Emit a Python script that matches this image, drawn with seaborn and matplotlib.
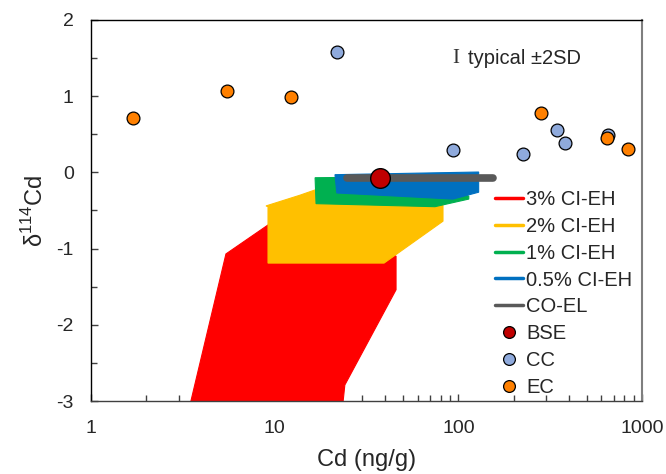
import matplotlib
matplotlib.use("Agg")
import matplotlib.pyplot as plt
import seaborn as sns
import pandas as pd
from matplotlib.lines import Line2D

# ---- data ----
ec_cd = [1.69, 5.5, 12.3, 282, 644, 838]
ec_d = [0.71, 1.07, 0.99, 0.78, 0.45, 0.31]
cc_cd = [21.8, 93.5, 225, 344, 380, 652]
cc_d = [1.58, 0.29, 0.24, 0.56, 0.39, 0.49]
bse_cd = [37.4]
bse_d = [-0.07]
coel_cd = [24.8, 154]
coel_d = [-0.07, -0.07]

red_cd = [3.5, 5.43, 9.2, 20.0, 45.8, 45.8, 24.1, 23.6]
red_d = [-3.0, -1.07, -0.69, -0.66, -1.10, -1.54, -2.79, -3.0]
yel_cd = [8.97, 9.2, 9.2, 39.4, 82.5, 82.5, 16.6, 13.7]
yel_d = [-0.44, -0.45, -1.19, -1.19, -0.64, -0.43, -0.23, -0.30]
grn_cd = [16.6, 16.8, 74.6, 114, 114, 40.0]
grn_d = [-0.07, -0.41, -0.45, -0.35, -0.31, -0.06]
blu_cd = [21.3, 21.8, 93.5, 129, 129]
blu_d = [-0.03, -0.27, -0.35, -0.26, 0.005]

labels = ["3% CI-EH", "2% CI-EH", "1% CI-EH", "0.5% CI-EH", "CO-EL", "BSE", "CC", "EC"]
c_red, c_yel, c_grn, c_blu, c_gry = "#FF0000", "#FFC000", "#00B050", "#0070C0", "#595959"
c_bse, c_cc, c_ec = "#C00000", "#8FAADC", "#FF8000"

sns.set_style("ticks")
plt.rcParams["font.family"] = ["Liberation Sans", "DejaVu Sans"]
plt.rcParams["mathtext.fontset"] = "custom"
plt.rcParams["mathtext.rm"] = "Liberation Sans"

fig = plt.figure(figsize=(6.66, 4.74), dpi=100)
ax = fig.add_axes([91/666, 73/474, 551/666, 381/474])

for xs, ys, c in [(red_cd, red_d, c_red), (yel_cd, yel_d, c_yel),
                  (grn_cd, grn_d, c_grn), (blu_cd, blu_d, c_blu)]:
    ax.fill(xs, ys, color=c, lw=0.8, ec=c, zorder=1)

sns.lineplot(x=coel_cd, y=coel_d, ax=ax, color=c_gry, lw=5.5, zorder=2)
sns.scatterplot(x=cc_cd, y=cc_d, ax=ax, color=c_cc, s=85, edgecolor="black", linewidth=0.9, zorder=3)
sns.scatterplot(x=ec_cd, y=ec_d, ax=ax, color=c_ec, s=85, edgecolor="black", linewidth=0.9, zorder=4)
sns.scatterplot(x=bse_cd, y=bse_d, ax=ax, color=c_bse, s=200, edgecolor="black", linewidth=1.0, zorder=5)

ax.set_xscale("log")
ax.set_xlim(1, 1000)
ax.set_ylim(-3, 2)
ax.set_yticks([-3, -2, -1, 0, 1, 2])
ax.set_yticks([-2.5, -1.5, -0.5, 0.5, 1.5], minor=True)
ax.set_xticks([1, 10, 100, 1000])
ax.set_xticklabels(["1", "10", "100", "1000"])
ax.set_yticklabels(["-3", "-2", "-1", "0", "1", "2"])
ax.tick_params(axis="both", which="both", direction="in", labelsize=14, color="#404040")
ax.tick_params(axis="both", which="major", length=5, width=1)
ax.tick_params(axis="both", which="minor", length=4, width=1)
ax.tick_params(axis="x", pad=14)
ax.tick_params(axis="y", pad=12.5)
for s in ["left", "top", "bottom"]:
    ax.spines[s].set_color("black")
    ax.spines[s].set_linewidth(1.0)
ax.spines["right"].set_color("#7f7f7f")
ax.spines["right"].set_linewidth(1.5)
ax.spines["bottom"].set_color("#404040")

ax.set_xlabel("Cd (ng/g)", fontsize=17, labelpad=8)
ax.set_ylabel(r"δ$^{114}$Cd", fontsize=17, labelpad=6)

ax.text(0.662, 0.9, "I", transform=ax.transAxes, fontsize=15, family="Liberation Serif",
        ha="center", va="center", color="#333333")
ax.text(0.684, 0.9, "typical ±2SD", transform=ax.transAxes, fontsize=14.5,
        ha="left", va="center")

handles = [Line2D([], [], color=c_red, lw=2.5), Line2D([], [], color=c_yel, lw=2.5),
           Line2D([], [], color=c_grn, lw=2.5), Line2D([], [], color=c_blu, lw=2.5),
           Line2D([], [], color=c_gry, lw=2.5),
           Line2D([], [], ls="", marker="o", ms=8.5, mfc=c_bse, mec="black", mew=0.9),
           Line2D([], [], ls="", marker="o", ms=8.5, mfc=c_cc, mec="black", mew=0.9),
           Line2D([], [], ls="", marker="o", ms=8.5, mfc=c_ec, mec="black", mew=0.9)]
leg = ax.legend(handles, labels, loc="upper left", bbox_to_anchor=(0.719, 0.575),
                frameon=False, fontsize=14.5, handlelength=1.4, handletextpad=0.15,
                labelspacing=0.39, borderaxespad=0)

fig.savefig("out.png", dpi=100)
